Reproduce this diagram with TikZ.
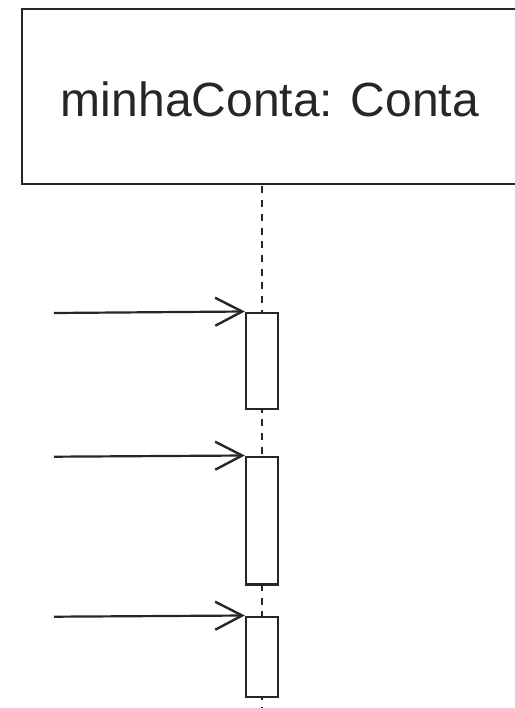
\documentclass[tikz,border=0pt]{standalone}
\usepackage{fontspec}
\setmainfont{Liberation Sans}
\usetikzlibrary{arrows.meta}
\definecolor{ink}{HTML}{262626}
\begin{document}
\begin{tikzpicture}[x=1pt,y=-1pt,
  objbox/.style={draw=ink,line width=2.4pt,minimum width=518pt,minimum height=175pt,inner sep=0pt},
  actbox/.style={draw=ink,fill=white,line width=2.4pt,minimum width=32pt,inner sep=0pt},
  lifeline/.style={draw=ink,line width=2.4pt,dash pattern=on 7pt off 6.7pt,dash phase=-2.5pt},
  msg/.style={draw=ink,line width=2.2pt,-{Straight Barb[length=27pt,width=28pt,line width=2.4pt]}}]
\useasboundingbox (0,0) rectangle (514,708);
\node[objbox] (obj) at (281,96.5) {};
\node[text=ink,anchor=base] (title) at (270,116.5) {\fontsize{48}{52}\selectfont minhaConta: Conta};
\coordinate (lltop) at (262,184);
\coordinate (llbot) at (262,712);
\draw[lifeline] (lltop) -- (llbot);
\node[actbox,minimum height=96pt] (act1) at (262,360.7) {};
\node[actbox,minimum height=127.6pt] (act2) at (262,520.5) {};
\node[actbox,minimum height=80pt] (act3) at (262,656.7) {};
\coordinate (s1) at (54,313);
\coordinate (s2) at (54,456.7);
\coordinate (s3) at (54,616.7);
\draw[msg] (s1) -- (act1.north west);
\draw[msg] (s2) -- (act2.north west);
\draw[msg] (s3) -- (act3.north west);
\end{tikzpicture}
\end{document}
